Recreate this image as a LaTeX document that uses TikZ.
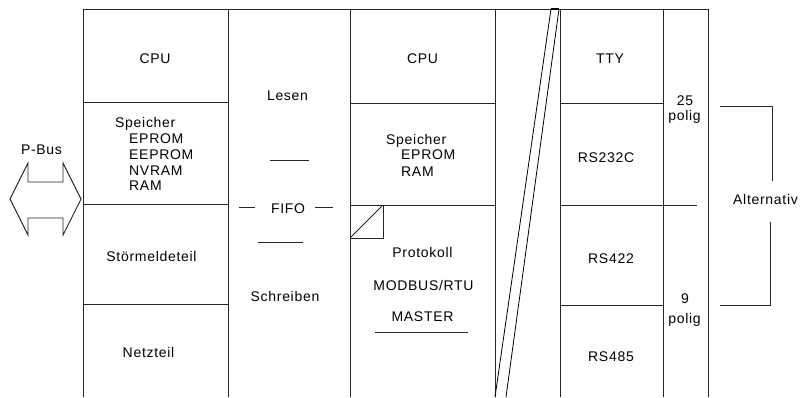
\documentclass[tikz,border=0pt]{standalone}
\usepackage{fontspec}
\setmainfont{Liberation Sans}[LetterSpace=5]
\begin{document}
\begin{tikzpicture}[x=1pt,y=-1pt,
  ln/.style={line width=0.9pt,draw=black!85},
  lbl/.style={inner sep=0pt,text height=10pt,text depth=0pt,font=\fontsize{14}{16}\selectfont}]
\useasboundingbox (0,0) rectangle (801,397);
% frame lines
\draw[ln] (83,9) -- (708,9);
\foreach \x in {83,228,350,495,560,663,708} \draw[ln] (\x,9) -- (\x,397);
\draw[ln] (83,102) -- (228,102);
\draw[ln] (83,204.5) -- (228,204.5);
\draw[ln] (83,304) -- (228,304);
\draw[ln] (350,103) -- (495,103);
\draw[ln] (350,205) -- (495,205);
\draw[ln] (560,103) -- (663,103);
\draw[ln] (560,205) -- (697,205);
\draw[ln] (560,305) -- (663,305);
% diagonal break
\draw[line width=0.8pt] (551,9) -- (495,397);
\draw[line width=0.8pt] (559,9) -- (506,397);
\draw[line width=2pt] (551,9) -- (559,9);
% small box
\draw[ln] (350,205) rectangle (383,238);
\draw[ln] (350,238) -- (383,205);
% P-Bus arrow
\draw[ln] (10,199) -- (28,163) -- (28,182) -- (63,182) -- (63,163) -- (81,199)
  -- (63,235) -- (63,218) -- (28,218) -- (28,235) -- cycle;
\node[lbl] (pbus) at (41.5,149) {P-Bus};
% left column
\node[lbl] (cpu1) at (155,58.5) {CPU};
\node[lbl,anchor=west] (sp1) at (115,122) {Speicher};
\node[lbl,anchor=west] (ep1) at (129,138) {EPROM};
\node[lbl,anchor=west] (eep1) at (129,154) {EEPROM};
\node[lbl,anchor=west] (nv1) at (129,170.5) {NVRAM};
\node[lbl,anchor=west] (ram1) at (129,185.5) {RAM};
\node[lbl] (stoer) at (151.5,256) {Störmeldeteil};
\node[lbl] (netz) at (148.5,352) {Netzteil};
% FIFO column
\node[lbl] (lesen) at (287.5,95.5) {Lesen};
\draw[ln] (270,160) -- (309,160);
\node[lbl] (fifo) at (288,208) {FIFO};
\draw[ln] (239,207) -- (255,207);
\draw[ln] (315,207) -- (333,207);
\draw[ln] (258,242) -- (303,242);
\node[lbl] (schreib) at (285,296) {Schreiben};
% middle column
\node[lbl] (cpu2) at (422.5,58) {CPU};
\node[lbl,anchor=west] (sp2) at (386,139) {Speicher};
\node[lbl,anchor=west] (ep2) at (401,154.5) {EPROM};
\node[lbl,anchor=west] (ram2) at (401,171) {RAM};
\node[lbl] (prot) at (422.5,252) {Protokoll};
\node[lbl] (modbus) at (423.5,285) {MODBUS/RTU};
\node[lbl] (master) at (422.5,316) {MASTER};
\draw[ln] (375,332) -- (468,332);
% right columns
\node[lbl] (tty) at (610,58) {TTY};
\node[lbl] (rs232) at (606,157) {RS232C};
\node[lbl] (rs422) at (611,258) {RS422};
\node[lbl] (rs485) at (611,356) {RS485};
\node[lbl] (n25) at (685,100) {25};
\node[lbl] (pol25) at (684.5,115) {polig};
\node[lbl] (n9) at (685,298) {9};
\node[lbl] (pol9) at (684.5,318) {polig};
% alternativ bracket
\node[lbl,anchor=west] (alt) at (733,199) {Alternativ};
\draw[ln] (720,106.5) -- (772,106.5) -- (772,181);
\draw[ln] (770,222) -- (770,305.5) -- (720,305.5);
\end{tikzpicture}
\end{document}
